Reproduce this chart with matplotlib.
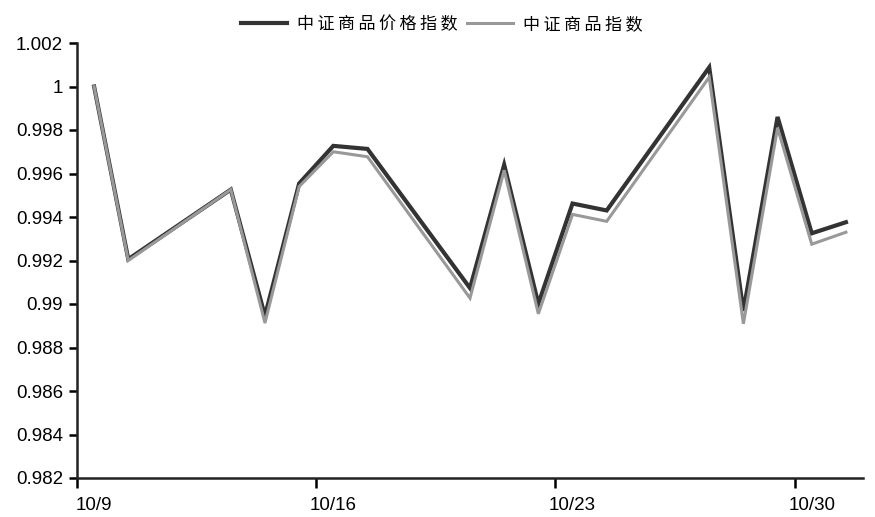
import numpy as np
import pandas as pd
import matplotlib
matplotlib.use("Agg")
import matplotlib.pyplot as plt
import matplotlib.dates as mdates
from matplotlib.ticker import FuncFormatter, FixedLocator

# trading days, Oct 2014
dates = ["2014-10-09", "2014-10-10", "2014-10-13", "2014-10-14", "2014-10-15",
         "2014-10-16", "2014-10-17", "2014-10-20", "2014-10-21", "2014-10-22",
         "2014-10-23", "2014-10-24", "2014-10-27", "2014-10-28", "2014-10-29",
         "2014-10-30", "2014-10-31"]
price_index = [1.0, 0.99206, 0.99526, 0.98945, 0.99554, 0.99727, 0.99713, 0.99073,
               0.99640, 0.99001, 0.99462, 0.99430, 1.00088, 0.98968, 0.99860,
               0.99325, 0.99376]
commodity_index = [1.0, 0.99200, 0.99526, 0.98913, 0.99540, 0.99700, 0.99677, 0.99027,
                   0.99615, 0.98955, 0.99412, 0.99380, 1.00043, 0.98909, 0.99810,
                   0.99275, 0.99330]
series_names = ["中证商品价格指数", "中证商品指数"]
tick_dates = ["2014-10-09", "2014-10-16", "2014-10-23", "2014-10-30"]
yticks = np.arange(0.982, 1.0021, 0.002)

plt.rcParams['font.family'] = ['Liberation Sans', 'DejaVu Sans']

d = pd.to_datetime(dates)
x = mdates.date2num(d) + 0.5  # points sit in the middle of each day

fig = plt.figure(figsize=(8.75, 5.17), dpi=100)
ax = fig.add_axes([77/875, 1 - 478/517, (863-77)/875, (478-43)/517])

# legend text is letter-spaced in the original
spaced = ['\u2009'.join(n) for n in series_names]
ax.plot(x, price_index, color='#333333', lw=3.0, label=spaced[0], solid_joinstyle='miter')
ax.plot(x, commodity_index, color='#999999', lw=2.2, label=spaced[1], solid_joinstyle='miter')

ax.set_ylim(0.982, 1.002)
start = mdates.date2num(pd.Timestamp("2014-10-09"))
ax.set_xlim(start, start + 23)

ax.set_yticks(yticks)
ax.yaxis.set_major_formatter(FuncFormatter(lambda v, p: '%g' % round(v, 3)))

tk = mdates.date2num(pd.to_datetime(tick_dates))
ax.xaxis.set_major_locator(FixedLocator(tk))
ax.xaxis.set_major_formatter(FuncFormatter(lambda v, p: ''))
ax.xaxis.set_minor_locator(FixedLocator(tk + 0.5))
ax.xaxis.set_minor_formatter(FuncFormatter(
    lambda v, p: '%d/%d' % (mdates.num2date(v).month, mdates.num2date(v).day)))

ax.tick_params(axis='x', which='major', length=7, width=1.8, direction='out')
ax.tick_params(axis='x', which='minor', length=0, pad=14, labelsize=13.5)
ax.tick_params(axis='y', length=6, width=1.8, direction='out', labelsize=13.5, pad=4)

for s in ['top', 'right']:
    ax.spines[s].set_visible(False)
for s in ['left', 'bottom']:
    ax.spines[s].set_linewidth(1.8)
    ax.spines[s].set_color('#222222')

leg = fig.legend(loc='center', bbox_to_anchor=(0.505, 0.953), ncol=2, frameon=False,
                 prop={'family': ['Noto Sans CJK SC', 'DejaVu Sans'], 'size': 12.3},
                 handlelength=2.7, handletextpad=0.6, columnspacing=0.5)

fig.savefig("out.png", dpi=100)
